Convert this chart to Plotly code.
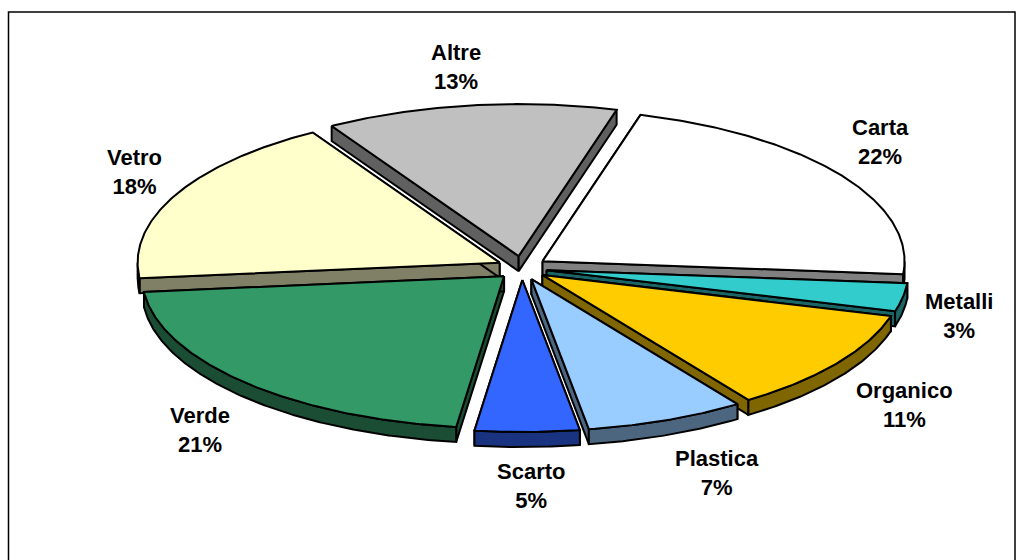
import math
import plotly.graph_objects as go

categories = ["Carta", "Metalli", "Organico", "Plastica", "Scarto", "Verde", "Vetro", "Altre"]
values = [22, 3, 11, 7.1, 4.65, 21.25, 18, 13]
top_colors = ["#FFFFFF", "#33CCCC", "#FFCC00", "#99CCFF", "#3366FF", "#339966", "#FFFFCC", "#C0C0C0"]
wall_colors = ["#808080", "#1A6666", "#806600", "#4D6680", "#1A3380", "#1A4D33", "#808066", "#606060"]
label_x = [880, 959, 904, 717, 531, 200, 134, 456]
label_y = [142, 316, 405, 473, 486, 430, 172, 67]

CX, CY = 522, 268
RX, RY = 362, 152
PULL_X, PULL_Y = 25, 12
DEPTH = 15
START = 15.7


def pt(cx, cy, deg, rx=RX, ry=RY):
    a = math.radians(deg)
    return cx + rx * math.sin(a), cy - ry * math.cos(a)


def arc(cx, cy, a0, a1):
    n = max(int(abs(a1 - a0) * 2), 2)
    return [pt(cx, cy, a0 + (a1 - a0) * i / n) for i in range(n + 1)]


def poly(points, color):
    xs = [p[0] for p in points] + [points[0][0]]
    ys = [p[1] for p in points] + [points[0][1]]
    return go.Scatter(x=xs, y=ys, mode="lines", fill="toself", fillcolor=color,
                      line=dict(color="black", width=2), hoverinfo="skip", showlegend=False)


total = sum(values)
slices = []
angle = START
for name, v, top, wall in zip(categories, values, top_colors, wall_colors):
    a0, a1 = angle, angle + v / total * 360
    angle = a1
    mid = math.radians((a0 + a1) / 2)
    cx = CX + PULL_X * math.sin(mid)
    cy = CY - PULL_Y * math.cos(mid)
    slices.append((cy - RY * math.cos(mid), cx, cy, a0, a1, top, wall))

fig = go.Figure()
for _, cx, cy, a0, a1, top, wall in sorted(slices, key=lambda s: s[0]):
    for a in (a0, a1):
        e = pt(cx, cy, a)
        fig.add_trace(poly([(cx, cy), e, (e[0], e[1] + DEPTH), (cx, cy + DEPTH)], wall))
    lo, hi = max(a0, 90), min(a1, 270)
    if hi > lo:
        rim = arc(cx, cy, lo, hi)
        fig.add_trace(poly(rim + [(x, y + DEPTH) for x, y in reversed(rim)], wall))
    fig.add_trace(poly([(cx, cy)] + arc(cx, cy, a0, a1), top))

annotations = [
    dict(x=x, y=y, xref="x", yref="y", text=f"{n}<br>{round(v)}%", showarrow=False,
         font=dict(family="Liberation Sans", size=22, color="black", weight="bold"),
         align="center")
    for n, v, x, y in zip(categories, values, label_x, label_y)
]

fig.update_layout(
    width=1022, height=560, margin=dict(l=0, r=0, t=0, b=0, pad=0),
    paper_bgcolor="white", plot_bgcolor="white", showlegend=False,
    xaxis=dict(range=[0, 1022], visible=False, fixedrange=True),
    yaxis=dict(range=[560, 0], visible=False, fixedrange=True),
    annotations=annotations,
    shapes=[dict(type="rect", xref="x", yref="y", x0=8.5, y0=12, x1=1015, y1=575,
                 line=dict(color="black", width=1.5), layer="below")],
)
fig.write_html("out.html", config={"displayModeBar": False},
               post_script="document.body.style.margin='0';document.body.style.overflow='hidden';")
